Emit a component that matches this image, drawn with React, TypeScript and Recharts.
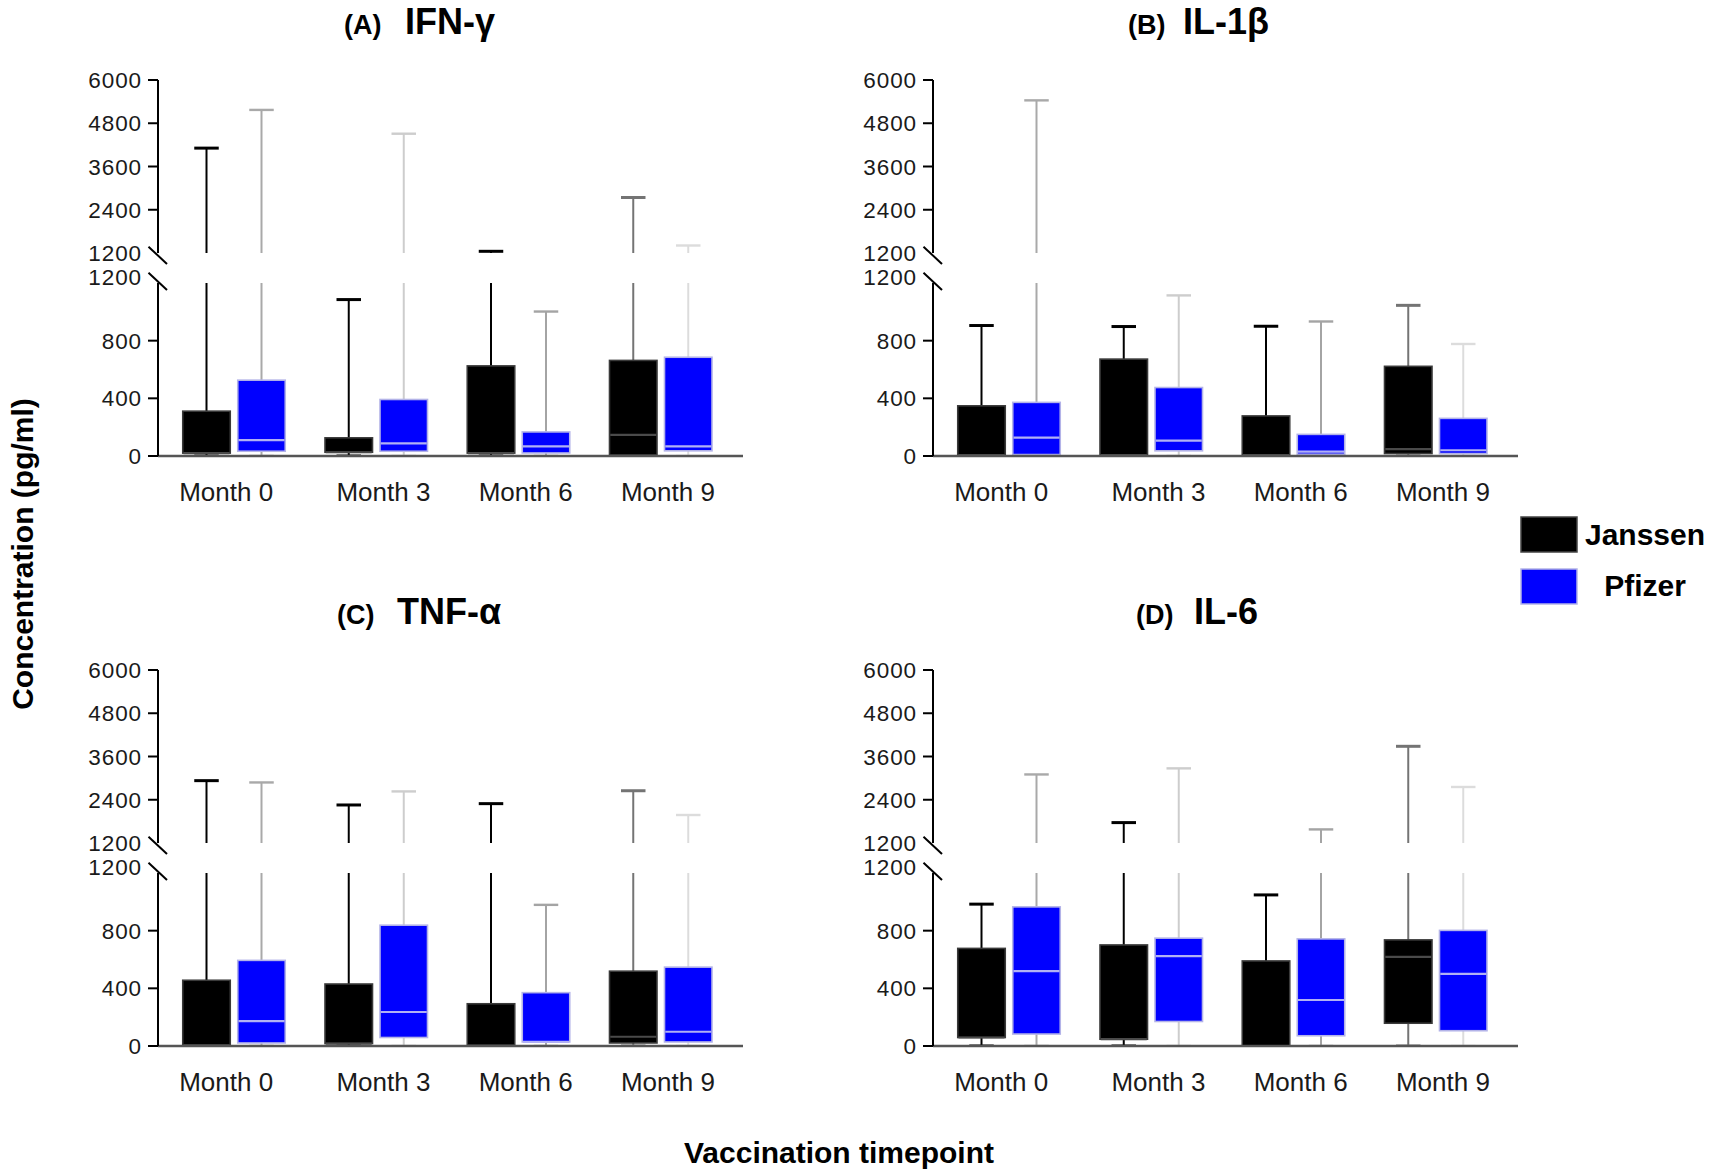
import React from 'react';
import { ComposedChart, Bar, XAxis, YAxis } from 'recharts';

// ---------- data: [min, Q1, median, Q3, max] in pg/ml ----------
type Box = [number, number, number, number, number];

const MONTHS = ['Month 0', 'Month 3', 'Month 6', 'Month 9'];

const IFN_JANSSEN: Box[] = [
  [0, 20, 20, 311, 4110],
  [0, 26, 26, 126, 1085],
  [0, 20, 20, 625, 1247],
  [0, 7, 146, 663, 2740],
];
const IFN_PFIZER: Box[] = [
  [0, 33, 110, 526, 5170],
  [0, 33, 88, 392, 4510],
  [0, 21, 67, 167, 1002],
  [0, 36, 67, 685, 1408],
];

const IL1B_JANSSEN: Box[] = [
  [0, 7, 7, 348, 905],
  [0, 7, 7, 672, 898],
  [0, 7, 7, 278, 900],
  [0, 17, 48, 622, 1045],
];
const IL1B_PFIZER: Box[] = [
  [0, 10, 128, 372, 5435],
  [0, 36, 107, 475, 1114],
  [0, 12, 31, 150, 933],
  [0, 17, 40, 261, 777],
];

const TNF_JANSSEN: Box[] = [
  [0, 5, 5, 456, 2930],
  [0, 17, 17, 430, 2255],
  [0, 2, 2, 293, 2292],
  [0, 21, 64, 519, 2650],
];
const TNF_PFIZER: Box[] = [
  [0, 21, 172, 594, 2880],
  [0, 59, 236, 838, 2631],
  [0, 28, 28, 370, 979],
  [0, 28, 99, 547, 1977],
];

const IL6_JANSSEN: Box[] = [
  [0, 59, 59, 677, 984],
  [0, 47, 47, 701, 1766],
  [0, 0, 0, 590, 1048],
  [0, 158, 618, 736, 3883],
];
const IL6_PFIZER: Box[] = [
  [0, 83, 519, 965, 3102],
  [0, 170, 623, 748, 3271],
  [0, 71, 319, 743, 1577],
  [0, 106, 500, 802, 2754],
];

const UPPER_DOMAIN: [number, number] = [1200, 6000];
const LOWER_DOMAIN: [number, number] = [0, 1200];
const UPPER_TICKS = [1200, 2400, 3600, 4800, 6000];
const LOWER_TICKS = [0, 400, 800, 1200];

// ---------- styles ----------
const FONT = '"Liberation Sans", Arial, Helvetica, sans-serif';
const JANSSEN_WHISKER = ['#000000', '#000000', '#000000', '#747474'];
const PFIZER_WHISKER = ['#a9a9a9', '#cdcdcd', '#a4a4a4', '#dcdcdc'];

type Row = { month: string; j: Box; p: Box };
const buildRows = (j: Box[], p: Box[]): Row[] =>
  MONTHS.map((month, i) => ({ month, j: j[i], p: p[i] }));

const makeBoxShape = (key: 'j' | 'p') => (props: any) => {
  const { x, y, width, height, payload } = props;
  if (!payload) return <g />;
  const b: Box = payload[key];
  const [mn, q1, md, q3, mx] = b;
  if (![x, y, width, height].every((v) => Number.isFinite(v)) || mx === mn) return <g />;
  const idx = MONTHS.indexOf(payload.month);
  const py = (v: number) => y + (height * (mx - v)) / (mx - mn);
  const cx = x + width / 2;
  const capHalf = width * 0.25;
  const isJ = key === 'j';
  const wColor = isJ ? JANSSEN_WHISKER[idx] : PFIZER_WHISKER[idx];
  const top = py(q3);
  const bot = py(q1);
  return (
    <g>
      <line x1={cx} x2={cx} y1={py(mn)} y2={py(mx)} stroke={wColor} strokeWidth={2} />
      <line x1={cx - capHalf} x2={cx + capHalf} y1={py(mx)} y2={py(mx)} stroke={wColor} strokeWidth={isJ ? 3 : 2.4} />
      <line x1={cx - capHalf} x2={cx + capHalf} y1={py(mn)} y2={py(mn)} stroke={wColor} strokeWidth={isJ ? 3 : 2.4} />
      <rect
        x={x + 0.75}
        y={top}
        width={width - 1.5}
        height={Math.max(bot - top, 0.5)}
        fill={isJ ? '#000000' : '#0000ff'}
        stroke={isJ ? '#3a3a3a' : '#b3b3e8'}
        strokeWidth={1.6}
      />
      <line
        x1={x + 1.5}
        x2={x + width - 1.5}
        y1={py(md)}
        y2={py(md)}
        stroke={isJ ? '#4a4a4a' : '#b0b0f4'}
        strokeWidth={2.2}
      />
    </g>
  );
};

const JanssenShape = makeBoxShape('j');
const PfizerShape = makeBoxShape('p');

const YTick = (props: any) => {
  const { x, y, payload, isLowerBreak } = props;
  const v = payload.value;
  const isBreak = v === 1200;
  const dy = isLowerBreak && isBreak ? -6 : 0;
  return (
    <g>
      {!isBreak && <line x1={x + 6} x2={x + 16} y1={y} y2={y} stroke="#000" strokeWidth={2} />}
      <text
        x={x}
        y={y + dy}
        dy="0.36em"
        textAnchor="end"
        fontFamily={FONT}
        fontSize={22.5}
        letterSpacing={0.9}
        fill="#1a1a1a"
      >
        {v}
      </text>
    </g>
  );
};

const XTick = (props: any) => {
  const { x, y, payload, index } = props;
  const shift = index === 0 ? -8 : 7;
  return (
    <text x={x + shift} y={y} dy={37} textAnchor="middle" fontFamily={FONT} fontSize={26} fill="#1a1a1a">
      {payload.value}
    </text>
  );
};

const CHART_W = 760;
const MARGIN_R = 17;
const Y_W = 158;
const X_PAD = { left: 5, right: 11 };

type PanelProps = { rows: Row[]; left: number; top: number };

const Panel = ({ rows, left, top }: PanelProps) => (
  <>
    <div style={{ position: 'absolute', left, top: top + 50 }}>
      <ComposedChart
        width={CHART_W}
        height={218}
        data={rows}
        margin={{ top: 30, right: MARGIN_R, bottom: 15, left: 0 }}
        barSize={49}
        barGap={6}
      >
        <XAxis dataKey="month" type="category" hide padding={X_PAD} />
        <YAxis
          type="number"
          domain={UPPER_DOMAIN}
          ticks={UPPER_TICKS}
          interval={0}
          allowDataOverflow
          width={Y_W}
          tickSize={10}
          tickMargin={6}
          tickLine={false}
          axisLine={{ stroke: '#000', strokeWidth: 2 }}
          tick={(p: any) => <YTick {...p} />}
        />
        <Bar dataKey={(d: Row) => [d.j[0], d.j[4]]} name="Janssen" shape={JanssenShape} isAnimationActive={false} />
        <Bar dataKey={(d: Row) => [d.p[0], d.p[4]]} name="Pfizer" shape={PfizerShape} isAnimationActive={false} />
      </ComposedChart>
    </div>
    <div style={{ position: 'absolute', left, top: top + 253 }}>
      <ComposedChart
        width={CHART_W}
        height={280}
        data={rows}
        margin={{ top: 30, right: MARGIN_R, bottom: 32, left: 0 }}
        barSize={49}
        barGap={6}
      >
        <XAxis
          dataKey="month"
          type="category"
          height={45}
          padding={X_PAD}
          tickSize={6}
          tickMargin={2}
          tickLine={false}
          axisLine={{ stroke: '#555555', strokeWidth: 2.5 }}
          tick={(p: any) => <XTick {...p} />}
          interval={0}
        />
        <YAxis
          type="number"
          domain={LOWER_DOMAIN}
          ticks={LOWER_TICKS}
          interval={0}
          allowDataOverflow
          width={Y_W}
          tickSize={10}
          tickMargin={6}
          tickLine={false}
          axisLine={{ stroke: '#000', strokeWidth: 2 }}
          tick={(p: any) => <YTick {...p} isLowerBreak />}
        />
        <Bar dataKey={(d: Row) => [d.j[0], d.j[4]]} name="Janssen" shape={JanssenShape} isAnimationActive={false} />
        <Bar dataKey={(d: Row) => [d.p[0], d.p[4]]} name="Pfizer" shape={PfizerShape} isAnimationActive={false} />
      </ComposedChart>
    </div>
  </>
);

const BreakMarks = ({ ax, off }: { ax: number; off: number }) => (
  <g stroke="#000" strokeWidth={2}>
    <line x1={ax - 9.5} y1={246.7 + off} x2={ax + 9} y2={264 + off} />
    <line x1={ax - 9.5} y1={272.7 + off} x2={ax + 9} y2={290 + off} />
  </g>
);

const Title = ({ x1, x2, y, tag, name }: { x1: number; x2: number; y: number; tag: string; name: string }) => (
  <text y={y} fontFamily={FONT} fontWeight="bold" fill="#000">
    <tspan x={x1} fontSize={27}>{tag}</tspan>
    <tspan x={x2} fontSize={36}>{name}</tspan>
  </text>
);

export default function App() {
  const ROW2 = 590;
  return (
    <div style={{ position: 'absolute', left: 0, top: 0, width: 1713, height: 1176, background: '#fff', overflow: 'hidden' }}>
      <Panel rows={buildRows(IFN_JANSSEN, IFN_PFIZER)} left={0} top={0} />
      <Panel rows={buildRows(IL1B_JANSSEN, IL1B_PFIZER)} left={775} top={0} />
      <Panel rows={buildRows(TNF_JANSSEN, TNF_PFIZER)} left={0} top={ROW2} />
      <Panel rows={buildRows(IL6_JANSSEN, IL6_PFIZER)} left={775} top={ROW2} />
      <svg width={1713} height={1176} style={{ position: 'absolute', left: 0, top: 0, pointerEvents: 'none' }}>
        <Title x1={344} x2={405} y={34} tag="(A)" name="IFN-γ" />
        <Title x1={1128} x2={1183} y={34} tag="(B)" name="IL-1β" />
        <Title x1={337} x2={397} y={34 + ROW2} tag="(C)" name="TNF-α" />
        <Title x1={1136} x2={1194} y={34 + ROW2} tag="(D)" name="IL-6" />

        <BreakMarks ax={158} off={0} />
        <BreakMarks ax={933} off={0} />
        <BreakMarks ax={158} off={ROW2} />
        <BreakMarks ax={933} off={ROW2} />

        <text
          x={33}
          y={554}
          transform="rotate(-90 33 554)"
          textAnchor="middle"
          fontFamily={FONT}
          fontWeight="bold"
          fontSize={30}
          fill="#000"
        >
          Concentration (pg/ml)
        </text>
        <text x={839} y={1163} textAnchor="middle" fontFamily={FONT} fontWeight="bold" fontSize={30} fill="#000">
          Vaccination timepoint
        </text>

        <rect x={1521} y={517} width={56} height={35} fill="#000" stroke="#444" strokeWidth={1.5} />
        <rect x={1521} y={569} width={56} height={35} fill="#0000ff" stroke="#b3b3e8" strokeWidth={1.5} />
        <text x={1645} y={545} textAnchor="middle" fontFamily={FONT} fontWeight="bold" fontSize={30} fill="#000">
          Janssen
        </text>
        <text x={1645} y={596} textAnchor="middle" fontFamily={FONT} fontWeight="bold" fontSize={30} fill="#000">
          Pfizer
        </text>
      </svg>
    </div>
  );
}
